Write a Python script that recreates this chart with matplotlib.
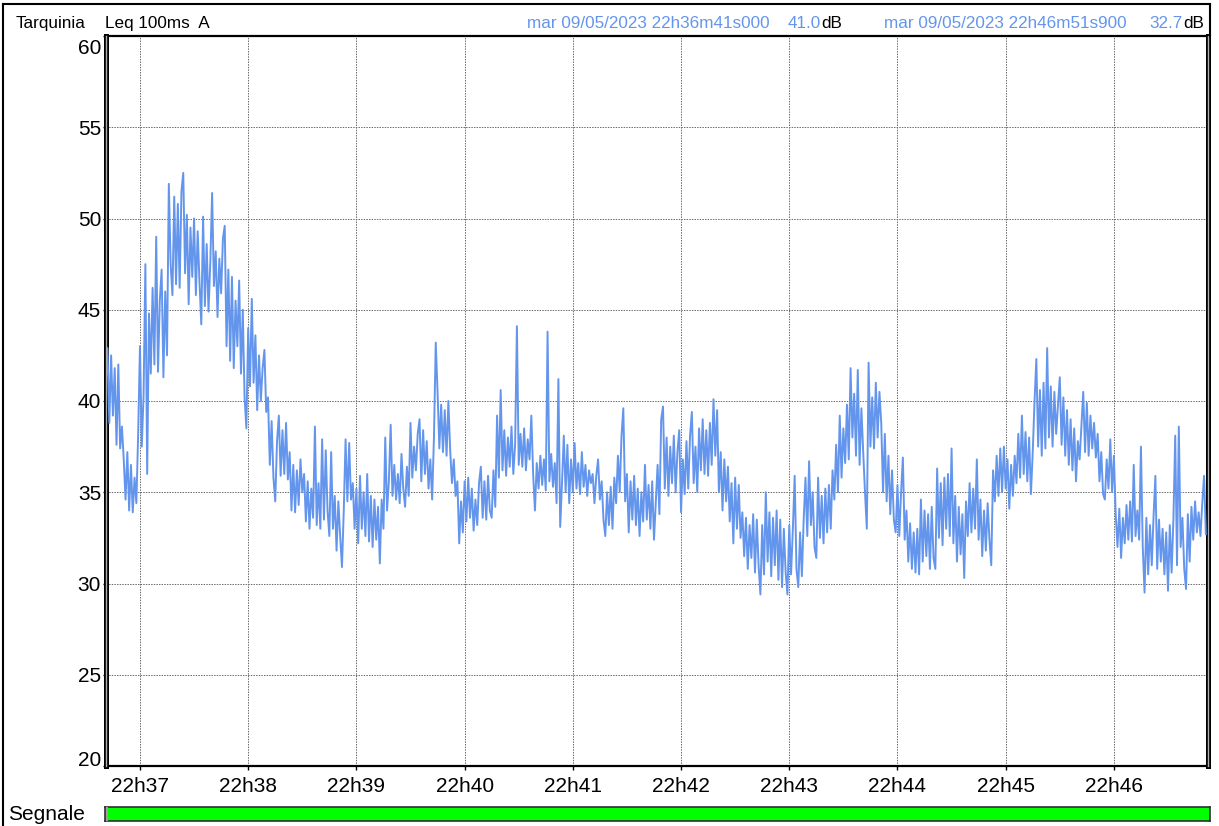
import matplotlib
matplotlib.use('Agg')
import matplotlib.pyplot as plt
from matplotlib.lines import Line2D
import matplotlib.transforms as mtransforms

plt.rcParams['font.family'] = ['Liberation Sans', 'DejaVu Sans']

# ---------------- data (Leq 100ms A, read at ~1 s resolution) ----------------
station = "Tarquinia"
measure = "Leq 100ms  A"
start_stamp = "mar 09/05/2023 22h36m41s000"
end_stamp = "mar 09/05/2023 22h46m51s900"
start_value = "41.0"
end_value = "32.7"
duration_s = 610.9          # 22h36m41s000 -> 22h46m51s900
sample_step_s = 1.0

leq_db = [
    41.0, 42.9, 38.8, 42.5, 39.2, 41.8, 37.6, 42.0, 37.4, 38.6,
    36.8, 34.6, 37.2, 34.0, 36.5, 33.9, 35.8, 34.4, 38.2, 43.0,
    37.5, 40.3, 47.5, 36.0, 44.8, 41.5, 46.2, 42.0, 49.0, 41.6,
    45.5, 47.2, 41.3, 46.0, 42.5, 51.9, 47.5, 45.8, 51.2, 46.4,
    50.8, 46.2, 51.5, 52.5, 47.0, 50.2, 45.3, 49.5, 46.8, 50.0,
    45.8, 49.3, 46.5, 44.2, 50.1, 45.2, 48.6, 44.9, 47.6, 51.4,
    46.3, 48.2, 44.6, 47.8, 45.9, 48.9, 49.6, 43.0, 47.2, 42.2,
    46.8, 41.8, 45.5, 43.0, 46.6, 41.5, 45.0, 40.2, 38.5, 44.0,
    40.8, 45.6, 41.0, 43.6, 39.5, 42.5, 40.0, 41.8, 42.8, 39.4,
    40.2, 36.5, 38.9, 35.8, 34.5, 37.8, 39.2, 35.9, 38.4, 36.0,
    38.8, 35.7, 37.2, 34.0, 36.5, 33.9, 36.2, 34.3, 36.8, 35.0,
    36.0, 33.4, 35.6, 33.0, 35.2, 33.6, 38.6, 33.2, 35.5, 33.0,
    37.9, 33.5, 37.3, 34.0, 32.6, 37.2, 33.0, 34.8, 31.8, 34.5,
    32.6, 30.9, 34.0, 37.9, 34.5, 37.7, 34.6, 35.5, 33.0, 35.2,
    32.2, 35.9, 33.0, 35.0, 32.6, 36.0, 32.3, 34.8, 32.0, 34.6,
    32.4, 34.2, 31.1, 34.6, 33.0, 38.0, 34.0, 35.6, 38.7, 34.8,
    36.5, 34.6, 36.0, 34.4, 37.1, 35.2, 34.2, 36.4, 34.8, 38.8,
    35.8, 37.5, 36.2, 38.2, 39.0, 35.6, 38.4, 36.0, 37.8, 35.2,
    36.8, 34.6, 38.0, 43.2, 40.5, 37.4, 39.8, 37.2, 39.5, 37.0,
    40.0, 37.3, 35.5, 36.8, 34.8, 35.6, 32.2, 34.5, 32.8, 35.6,
    33.4, 35.8, 33.6, 35.2, 32.9, 34.6, 33.2, 35.5, 36.4, 33.6,
    35.6, 33.5, 35.9, 34.0, 33.6, 36.2, 34.2, 39.2, 35.8, 40.6,
    36.2, 38.4, 35.9, 38.0, 36.4, 38.6, 36.0, 37.6, 44.1, 36.5,
    38.2, 36.4, 38.5, 36.2, 37.9, 36.8, 39.2, 36.0, 34.0, 36.6,
    35.2, 37.0, 35.4, 36.8, 35.1, 43.8, 35.6, 37.1, 35.3, 36.6,
    34.4, 41.2, 33.1, 35.5, 38.1, 35.0, 37.6, 34.4, 36.8, 35.0,
    37.7, 35.2, 36.6, 34.9, 37.2, 35.3, 36.5, 34.8, 36.2, 35.5,
    36.0, 34.4, 35.9, 36.8, 34.6, 35.6, 33.5, 32.6, 35.0, 33.2,
    35.3, 33.0, 35.8, 34.4, 37.0, 35.0, 38.1, 39.6, 34.5, 36.0,
    32.8, 35.6, 33.5, 35.9, 33.2, 35.2, 32.6, 35.0, 33.4, 36.5,
    33.5, 35.4, 33.0, 35.6, 32.4, 34.5, 36.5, 33.8, 39.0, 39.7,
    35.2, 38.0, 34.8, 37.5, 35.5, 38.1, 35.0, 37.2, 38.4, 33.9,
    36.8, 34.9, 37.8, 35.2, 38.1, 39.4, 35.5, 37.5, 35.0, 38.5,
    36.2, 39.0, 36.0, 38.4, 35.9, 38.8, 36.5, 40.1, 37.0, 39.5,
    35.0, 37.2, 34.0, 36.8, 34.5, 36.4, 33.4, 35.5, 32.2, 35.8,
    33.0, 35.4, 32.5, 33.9, 31.5, 33.6, 30.8, 33.2, 31.4, 33.8,
    30.6, 33.5, 31.0, 29.4, 33.2, 30.5, 35.0, 31.2, 33.9, 30.4,
    33.6, 31.0, 34.0, 30.2, 33.5, 29.8, 33.0, 30.6, 29.4, 33.2,
    30.5, 33.0, 35.9, 30.8, 29.8, 32.8, 30.4, 33.5, 35.8, 32.6,
    36.7, 33.2, 35.0, 32.0, 31.4, 35.8, 32.5, 34.8, 32.2, 35.2,
    32.8, 35.4, 33.0, 36.2, 34.6, 37.6, 35.0, 39.2, 35.8, 38.5,
    36.6, 39.8, 36.8, 41.8, 38.0, 40.4, 37.0, 41.7, 36.5, 39.6,
    37.2, 35.0, 33.0, 42.1, 37.5, 40.2, 37.4, 41.0, 38.0, 40.5,
    38.8, 35.0, 38.2, 34.5, 37.0, 33.8, 36.2, 33.5, 32.8, 35.4,
    32.6, 35.0, 36.9, 32.4, 34.0, 31.2, 33.3, 30.8, 32.8, 30.6,
    33.0, 30.5, 34.6, 31.2, 34.0, 31.5, 33.8, 30.8, 34.2, 31.4,
    30.8, 36.3, 32.5, 35.5, 32.1, 35.8, 33.0, 36.0, 32.6, 37.4,
    32.2, 34.8, 31.2, 34.2, 31.6, 33.8, 30.3, 34.5, 32.6, 35.5,
    32.8, 35.2, 33.0, 36.8, 32.4, 34.6, 31.5, 34.0, 31.8, 34.4,
    32.4, 31.0, 36.2, 34.5, 37.0, 34.8, 37.4, 35.0, 37.5, 35.2,
    36.8, 34.1, 36.5, 34.8, 37.0, 35.5, 38.2, 35.8, 39.2, 36.0,
    38.3, 35.6, 38.0, 34.9, 37.2, 40.0, 42.3, 37.5, 40.6, 37.0,
    41.0, 37.4, 42.9, 38.0, 40.8, 37.5, 40.5, 38.2, 39.8, 41.3,
    37.6, 40.2, 37.0, 39.5, 36.5, 39.0, 36.2, 38.5, 35.6, 37.8,
    36.8, 38.6, 40.5, 37.2, 39.9, 37.0, 39.2, 37.4, 38.8, 36.9,
    38.2, 35.6, 37.2, 34.9, 34.6, 36.8, 35.2, 37.9, 35.0, 37.0,
    33.8, 32.0, 34.1, 31.4, 33.6, 32.2, 34.3, 32.4, 34.5, 32.3,
    36.5, 32.6, 34.0, 32.4, 37.5, 32.0, 29.5, 33.6, 30.5, 33.2,
    31.0, 33.7, 35.9, 30.8, 33.5, 31.2, 33.0, 30.5, 32.8, 29.6,
    33.2, 30.6, 33.5, 38.1, 31.0, 38.6, 32.0, 33.6, 30.8, 29.7,
    33.8, 31.2, 34.2, 32.4, 34.5, 32.8, 33.9, 32.6, 34.4, 35.9,
    32.7,
]

x_tick_seconds = [19, 79, 139, 199, 259, 319, 379, 439, 499, 559]
x_tick_labels = ['22h37', '22h38', '22h39', '22h40', '22h41',
                 '22h42', '22h43', '22h44', '22h45', '22h46']
y_ticks = [20, 25, 30, 35, 40, 45, 50, 55, 60]

# ---------------- styling ----------------
W, H = 1219, 826
LINE_BLUE = '#6495ED'
FS_TICK = 15
FS_HEAD = 12.3


def fx(px):
    return px / W


def fy(py):
    return 1 - py / H


fig = plt.figure(figsize=(W / 100, H / 100), dpi=100)
fig.patch.set_facecolor('white')

left_px, right_px, top_px, bottom_px = 105.7, 1207.5, 36, 766
ax = fig.add_axes([fx(left_px), fy(bottom_px), fx(right_px) - fx(left_px),
                   fy(top_px) - fy(bottom_px)])

times = [i * sample_step_s for i in range(len(leq_db))]
ax.plot(times, leq_db, color=LINE_BLUE, lw=1.4, zorder=3)

ax.set_xlim(0, duration_s)
ax.set_ylim(y_ticks[0], y_ticks[-1])

ax.set_xticks(x_tick_seconds)
ax.set_xticklabels(x_tick_labels, fontsize=FS_TICK)
ax.set_yticks(y_ticks)
ax.set_yticklabels([])
ax.tick_params(axis='x', direction='out', length=3.2, width=1, pad=5, colors='black')
ax.tick_params(axis='y', direction='out', length=2.2, width=1, pad=1)

ax.grid(True, color='#6a6a6a', linestyle=(0, (1.5, 1.2)), lw=0.7, zorder=1)

for side in ['top', 'bottom']:
    ax.spines[side].set_linewidth(1.6)
    ax.spines[side].set_color('black')
for side in ['left', 'right']:
    ax.spines[side].set_linewidth(3.6)
    ax.spines[side].set_color('black')
for xa in (0, 1):
    ax.add_line(Line2D([xa, xa], [0, 1], transform=ax.transAxes, color='#b0b0b0',
                       lw=1.0, clip_on=False, zorder=6))

# y tick labels drawn as texts (extreme labels kept inside the frame)
ytrans = ax.get_yaxis_transform()
for v in y_ticks:
    if v == y_ticks[-1]:
        tr = mtransforms.offset_copy(ytrans, fig=fig, x=-4.6, y=-17.5, units='dots')
        va = 'baseline'
    elif v == y_ticks[0]:
        tr = mtransforms.offset_copy(ytrans, fig=fig, x=-4.6, y=0.5, units='dots')
        va = 'baseline'
    else:
        tr = mtransforms.offset_copy(ytrans, fig=fig, x=-4.6, y=0, units='dots')
        va = 'center_baseline'
    ax.text(0, v, str(v), transform=tr, ha='right', va=va, fontsize=FS_TICK,
            color='black', clip_on=False)

# ---------------- header ----------------
HB = fy(28)   # header baseline
fig.text(fx(16), HB, station, fontsize=FS_HEAD, va='baseline', ha='left')
fig.text(fx(105), HB, measure, fontsize=FS_HEAD, va='baseline', ha='left')
fig.text(fx(527), HB, start_stamp, fontsize=FS_HEAD, va='baseline', ha='left', color=LINE_BLUE)
fig.text(fx(821), HB, start_value, fontsize=FS_HEAD, va='baseline', ha='right', color=LINE_BLUE)
fig.text(fx(821), HB, 'dB', fontsize=FS_HEAD, va='baseline', ha='left', color='black')
fig.text(fx(884), HB, end_stamp, fontsize=FS_HEAD, va='baseline', ha='left', color=LINE_BLUE)
fig.text(fx(1183), HB, end_value, fontsize=FS_HEAD, va='baseline', ha='right', color=LINE_BLUE)
fig.text(fx(1183), HB, 'dB', fontsize=FS_HEAD, va='baseline', ha='left', color='black')

# outer frame (left, top; right side joins the plot border)
fig.add_artist(Line2D([fx(3), fx(3)], [fy(4), fy(830)], color='black', lw=1.5))
fig.add_artist(Line2D([fx(3), fx(1210)], [fy(4), fy(4)], color='black', lw=1.5))
fig.add_artist(Line2D([fx(1210), fx(1210)], [fy(4), fy(36)], color='black', lw=1.5))

# ---------------- signal bar ----------------
axs = fig.add_axes([fx(105), fy(821), fx(1210) - fx(105), fy(807) - fy(821)])
axs.set_xlim(0, duration_s)
axs.set_ylim(0, 1)
axs.axvspan(0, duration_s, color='#00ff00', zorder=1)
axs.set_xticks([])
axs.set_yticks([])
for s in axs.spines.values():
    s.set_linewidth(1.2)
    s.set_color('#303030')
axs.add_line(Line2D([0.0015, 0.0015], [0, 1], transform=axs.transAxes,
                    color='#a0a0a0', lw=1.5, zorder=3))
fig.text(fx(8), fy(815), 'Segnale', fontsize=FS_TICK, va='center', ha='left')

fig.savefig('out.png', dpi=100)
